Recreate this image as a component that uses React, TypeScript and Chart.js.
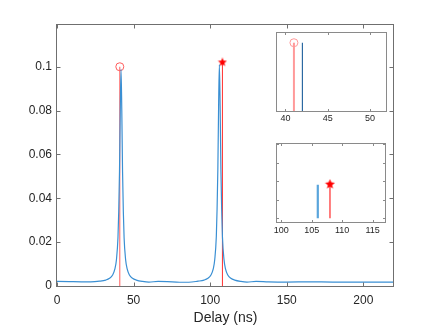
import React, { useEffect, useRef } from 'react';
import { Chart, registerables } from 'chart.js';

Chart.register(...registerables);

// ---- Data ----
const delayNs = [
  0, 8, 16, 22, 27.8, 31.8, 34.3, 36.3, 37.8, 38.8, 39.8, 40.3, 40.8, 41.3, 41.8, 42.3, 42.8, 43.3, 43.8, 44.8,
  45.8, 47.3, 49.3, 51.8, 55.8, 60, 66, 72, 80, 86, 92, 96, 98.5, 100.5, 102, 103, 104, 104.5, 105, 105.5, 106,
  106.5, 107, 107.5, 108, 109, 110, 111.5, 113.5, 116, 120, 124, 130, 138, 150, 165, 180, 200, 220,
];
const amplitude = [
  0.0021, 0.002, 0.0019, 0.0019, 0.0022, 0.0027, 0.0035, 0.005, 0.0078, 0.012, 0.022, 0.034, 0.052, 0.08, 0.0988,
  0.08, 0.052, 0.034, 0.022, 0.012, 0.0078, 0.005, 0.0035, 0.0027, 0.0021, 0.0018, 0.0021, 0.002, 0.0017, 0.0017,
  0.0022, 0.0027, 0.0035, 0.005, 0.0078, 0.0122, 0.0225, 0.035, 0.053, 0.082, 0.101, 0.082, 0.053, 0.035, 0.0225,
  0.0122, 0.0078, 0.005, 0.0035, 0.0027, 0.0021, 0.0018, 0.0021, 0.0019, 0.0018, 0.0019, 0.0018, 0.0018, 0.0018,
];

const mainXTicks = [0, 50, 100, 150, 200];
const mainYTicks = [0, 0.02, 0.04, 0.06, 0.08, 0.1];

// true delays (red stems)
const trueDelays = [41, 108];
const trueAmps = [0.1, 0.102];

// inset 1 (around first path)
const inset1XTicks = [40, 45, 50];
const inset1Red = { x: 41, y: 0.1 };
const inset1Blue = { x: 42, y: 0.1 };

// inset 2 (around second path)
const inset2XTicks = [100, 105, 110, 115];
const inset2YTicks = [0, 0.05, 0.1, 0.15, 0.2];
const inset2Red = { x: 108, y: 0.092 };
const inset2Blue = { x: 106, y: 0.091 };

const FONT = "'Liberation Sans', Arial, Helvetica, sans-serif";
const AXIS = '#6f6f6f';
const TEXT = '#262626';

function makeStar(size: number, color: string) {
  const c = document.createElement('canvas');
  c.width = size;
  c.height = size;
  const g = c.getContext('2d')!;
  const cx = size / 2;
  const cy = size / 2;
  const R = size / 2 - 0.3;
  const r = R * 0.45;
  g.beginPath();
  for (let i = 0; i < 10; i++) {
    const a = -Math.PI / 2 + (i * Math.PI) / 5;
    const rad = i % 2 === 0 ? R : r;
    g.lineTo(cx + rad * Math.cos(a), cy + rad * Math.sin(a));
  }
  g.closePath();
  g.fillStyle = color;
  g.fill();
  return c;
}

const framePlugin = {
  id: 'frame',
  beforeDatasetsDraw(chart: any, _a: any, opts: any) {
    const { ctx, chartArea: ca } = chart;
    if (opts.fill) {
      ctx.save();
      ctx.fillStyle = '#ffffff';
      ctx.fillRect(ca.left, ca.top, ca.right - ca.left, ca.bottom - ca.top);
      ctx.restore();
    }
  },
  afterDatasetsDraw(chart: any, _a: any, opts: any) {
    const { ctx, chartArea: ca, scales } = chart;
    const L = Math.round(ca.left) - 0.5;
    const R = Math.round(ca.right) - 0.5;
    const T = Math.round(ca.top) + 0.5;
    const B = Math.round(ca.bottom) + 0.5;
    const tl = opts.tick || 4;
    ctx.save();
    ctx.strokeStyle = opts.color || AXIS;
    ctx.lineWidth = 1;
    ctx.beginPath();
    (scales.x.ticks || []).forEach((t: any) => {
      const px = Math.round(scales.x.getPixelForValue(t.value)) + 0.5;
      ctx.moveTo(px, B);
      ctx.lineTo(px, B - tl);
      ctx.moveTo(px, T);
      ctx.lineTo(px, T + tl);
    });
    (opts.yticks ? scales.y.ticks || [] : []).forEach((t: any) => {
      const py = Math.round(scales.y.getPixelForValue(t.value)) + 0.5;
      ctx.moveTo(L, py);
      ctx.lineTo(L + tl, py);
      ctx.moveTo(R, py);
      ctx.lineTo(R - tl, py);
    });
    ctx.stroke();
    ctx.lineWidth = opts.lw || 1;
    ctx.strokeRect(L, T, R - L, B - T);
    ctx.restore();
  },
};

function stem(x: number, y: number, color: string, width: number, style: any, radius: number, bg: string) {
  return {
    type: 'line' as const,
    data: [
      { x, y: 0 },
      { x, y },
    ],
    borderColor: color,
    borderWidth: width,
    pointRadius: [0, radius],
    pointHoverRadius: [0, radius],
    pointStyle: style,
    pointBorderColor: color,
    pointBackgroundColor: bg,
    pointBorderWidth: 1,
    tension: 0,
  };
}

function useChart(ref: React.RefObject<HTMLCanvasElement | null>, build: () => any) {
  useEffect(() => {
    if (!ref.current) return;
    const ch = new Chart(ref.current, build());
    return () => ch.destroy();
  }, []);
}

const canvasStyle: React.CSSProperties = {
  position: 'absolute',
  left: 0,
  top: 0,
  width: 436,
  height: 327,
};

export default function App() {
  const mainRef = useRef<HTMLCanvasElement>(null);
  const in1Ref = useRef<HTMLCanvasElement>(null);
  const in2Ref = useRef<HTMLCanvasElement>(null);

  useChart(mainRef, () => {
    const star = makeStar(10, '#ff0000');
    return {
      type: 'line',
      data: {
        datasets: [
          {
            data: delayNs.map((x, i) => ({ x, y: amplitude[i] })),
            borderColor: '#3a8fd3',
            borderWidth: 1.2,
            pointRadius: 0,
            cubicInterpolationMode: 'monotone',
          },
          stem(trueDelays[0], trueAmps[0], '#ff5c5c', 1, 'circle', 4, 'rgba(255,255,255,0)'),
          stem(trueDelays[1], trueAmps[1], '#ff3030', 1, star, 5, '#ff0000'),
        ],
      },
      options: {
        animation: false,
        responsive: false,
        events: [],
        layout: { padding: { left: 0, top: 24, right: 42, bottom: 0 } },
        plugins: {
          legend: { display: false },
          tooltip: { enabled: false },
          frame: { tick: 4, yticks: true },
        },
        scales: {
          x: {
            type: 'linear',
            min: 0,
            max: 220,
            afterBuildTicks: (s: any) => {
              s.ticks = mainXTicks.map((v) => ({ value: v }));
            },
            afterFit: (s: any) => {
              s.height = 41;
            },
            grid: { display: false, drawTicks: false },
            border: { display: false },
            ticks: { padding: 7, color: TEXT, font: { family: FONT, size: 12 }, maxRotation: 0 },
            title: {
              display: true,
              text: 'Delay (ns)',
              color: TEXT,
              font: { family: FONT, size: 14 },
              padding: { top: 0, bottom: 0 },
            },
          },
          y: {
            type: 'linear',
            min: 0,
            max: 0.1195,
            afterBuildTicks: (s: any) => {
              s.ticks = mainYTicks.map((v) => ({ value: v }));
            },
            afterFit: (s: any) => {
              s.width = 57;
            },
            grid: { display: false, drawTicks: false },
            border: { display: false },
            ticks: {
              padding: 5,
              color: TEXT,
              font: { family: FONT, size: 12 },
              callback: (v: any) => String(Number(Number(v).toFixed(3))),
            },
          },
        },
      },
      plugins: [framePlugin],
    };
  });

  const insetOptions = (
    xmin: number,
    xmax: number,
    ymin: number,
    ymax: number,
    xt: number[],
    yt: number[],
    pad: { left: number; top: number; right: number },
    xh: number,
    labPad: number
  ) => ({
    animation: false,
    responsive: false,
    events: [],
    layout: { padding: { left: pad.left, top: pad.top, right: pad.right, bottom: 0 } },
    plugins: {
      legend: { display: false },
      tooltip: { enabled: false },
      frame: { tick: 2.5, yticks: true, fill: true, color: '#8a8a8a' },
    },
    scales: {
      x: {
        type: 'linear',
        min: xmin,
        max: xmax,
        afterBuildTicks: (s: any) => {
          s.ticks = xt.map((v) => ({ value: v }));
        },
        afterFit: (s: any) => {
          s.height = xh;
        },
        grid: { display: false, drawTicks: false },
        border: { display: false },
        ticks: { padding: labPad, color: TEXT, font: { family: FONT, size: 9 }, maxRotation: 0 },
      },
      y: {
        type: 'linear',
        min: ymin,
        max: ymax,
        afterBuildTicks: (s: any) => {
          s.ticks = yt.map((v) => ({ value: v }));
        },
        afterFit: (s: any) => {
          s.width = 0;
        },
        grid: { display: false, drawTicks: false },
        border: { display: false },
        ticks: { display: false },
      },
    },
  });

  useChart(in1Ref, () => ({
    type: 'line',
    data: {
      datasets: [
        stem(inset1Red.x, inset1Red.y, '#ff9a9a', 2, 'circle', 4, 'rgba(255,255,255,0)'),
        stem(inset1Blue.x, inset1Blue.y, '#1d5f9c', 1.1, 'circle', 0, '#1d5f9c'),
      ],
    },
    options: insetOptions(39, 52, 0, 0.1157, inset1XTicks, [], { left: 277, top: 32, right: 49 }, 216, 2.5),
    plugins: [framePlugin],
  }));

  useChart(in2Ref, () => {
    const star = makeStar(11, '#ff0000');
    return {
      type: 'line',
      data: {
        datasets: [
          stem(inset2Blue.x, inset2Blue.y, '#5aa5dc', 2.2, 'circle', 0, '#5aa5dc'),
          stem(inset2Red.x, inset2Red.y, '#ff3a3a', 1.3, star, 5, '#ff0000'),
        ],
      },
      options: insetOptions(99.3, 117.2, -0.01, 0.205, inset2XTicks, inset2YTicks, { left: 277, top: 142.5, right: 50 }, 105, 3),
      plugins: [framePlugin],
    };
  });

  return (
    <div style={{ position: 'fixed', left: 0, top: 0, width: 436, height: 327, background: '#fff' }}>
      <canvas ref={mainRef} width={436} height={327} style={canvasStyle} />
      <canvas ref={in1Ref} width={436} height={327} style={canvasStyle} />
      <canvas ref={in2Ref} width={436} height={327} style={canvasStyle} />
    </div>
  );
}
